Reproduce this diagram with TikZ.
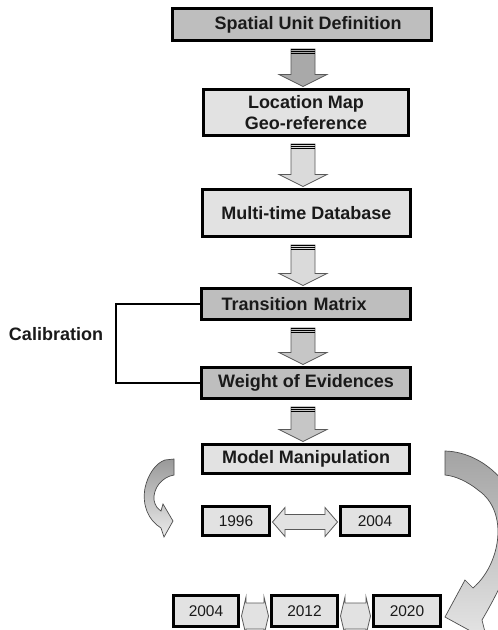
\documentclass[tikz,border=0pt]{standalone}
\usepackage{fontspec}
\setmainfont{Liberation Sans}
\usetikzlibrary{calc}

\definecolor{boxdark}{HTML}{BEBEBE}
\definecolor{boxlight}{HTML}{E2E2E2}
\definecolor{arrowdark}{HTML}{A9A9A9}
\definecolor{arrowmid}{HTML}{C6C6C6}
\definecolor{arrowlight}{HTML}{DADADA}
\definecolor{inkgray}{HTML}{1A1A1A}

\tikzset{
  box/.style={draw=black, line width=3pt, inner sep=0pt, text=inkgray,
    font=\bfseries\fontsize{18}{20.5}\selectfont},
  darkbox/.style={box, fill=boxdark},
  lightbox/.style={box, fill=boxlight},
  yearbox/.style={box, fill=boxlight, font=\fontsize{15.5}{18}\selectfont},
  flowarrow/.style={draw=black!65, line width=0.8pt, line join=miter},
  stripe/.style={draw=black, line width=0.9pt},
  bracket/.style={draw=black, line width=2pt},
  bentarrow/.style={draw=black!70, line width=0.7pt},
}

% vertical block arrow from the bottom of #1 to the top of #2, filled with #3
\newcommand\flowdown[3]{%
  \path[flowarrow, fill=#3] let \p1=(#1.south), \p2=(#2.north) in
    (291pt,\y1-7pt) -- (315pt,\y1-7pt) -- (315pt,\y2+13.5pt) -- (327pt,\y2+13.5pt)
    -- (303pt,\y2+1.5pt) -- (279pt,\y2+13.5pt) -- (291pt,\y2+13.5pt) -- cycle;
  \draw[stripe] let \p1=(#1.south) in
    (291pt,\y1-7pt) -- (315pt,\y1-7pt)
    (291pt,\y1-9pt) -- (315pt,\y1-9pt)
    (291pt,\y1-11pt) -- (315pt,\y1-11pt);
}

% horizontal double block arrow between #1 and #2:
% #3 half shaft, #4 half head, #5 head length, #6 drop below the box centre
\newcommand\flowboth[6]{%
  \path[flowarrow, fill=boxlight] let \p1=(#1.east), \p2=(#2.west) in
    (\x1+1.5pt,\y1-#6) -- (\x1+#5,\y1-#6+#4) -- (\x1+#5,\y1-#6+#3)
    -- (\x2-#5,\y1-#6+#3) -- (\x2-#5,\y1-#6+#4) -- (\x2-1.5pt,\y1-#6)
    -- (\x2-#5,\y1-#6-#4) -- (\x2-#5,\y1-#6-#3) -- (\x1+#5,\y1-#6-#3)
    -- (\x1+#5,\y1-#6-#4) -- cycle;
}

\begin{document}
\begin{tikzpicture}[x=1pt, y=-1pt]
  \useasboundingbox (0,0) rectangle (498,630);
  \fill[white] (0,0) rectangle (498,630);
  \clip (0,0) rectangle (498,630);

  % main chain of steps
  \node[darkbox, minimum width=259pt, minimum height=32pt] (sud) at (302,24.5)
    {\hspace*{12pt}Spatial Unit Definition};
  \node[lightbox, minimum width=205pt, minimum height=46pt, align=center] (lm) at (306,112.5)
    {Location Map\\Geo-reference};
  \node[lightbox, minimum width=208pt, minimum height=47pt] (mt) at (306.5,213)
    {Multi-time Database};
  \node[darkbox, minimum width=209pt, minimum height=31pt, text width=169pt, align=left,
    inner xsep=20pt] (tm) at (306,304) {Transition Matrix};
  \node[darkbox, minimum width=209pt, minimum height=31pt] (woe) at (306,383)
    {Weight of Evidences};
  \node[lightbox, minimum width=207pt, minimum height=29pt] (mm) at (306,459)
    {Model Manipulation};

  % simulation periods
  \node[yearbox, minimum width=67pt, minimum height=29pt] (y1996) at (236,521) {1996};
  \node[yearbox, minimum width=69pt, minimum height=29pt] (y2004a) at (375,521) {2004};
  \node[yearbox, minimum width=65pt, minimum height=31pt] (y2004b) at (206,611) {2004};
  \node[yearbox, minimum width=66pt, minimum height=31pt] (y2012) at (304.5,611) {2012};
  \node[yearbox, minimum width=67pt, minimum height=31pt] (y2020) at (407,611) {2020};

  % calibration loop
  \node[font=\bfseries\fontsize{18}{20.5}\selectfont, text=inkgray] (cal) at (56,334) {Calibration};
  \draw[bracket] (tm.west) -- ++(-84.5,0) |- (woe.west);

  % flow between the steps
  \flowdown{sud}{lm}{arrowdark}
  \flowdown{lm}{mt}{arrowlight}
  \flowdown{mt}{tm}{arrowlight}
  \flowdown{tm}{woe}{arrowmid}
  \flowdown{woe}{mm}{arrowmid}

  \flowboth{y1996}{y2004a}{7.5pt}{14.5pt}{14pt}{1pt}
  \flowboth{y2004b}{y2012}{13pt}{19pt}{6pt}{5pt}
  \flowboth{y2012}{y2020}{13pt}{19pt}{6pt}{5pt}

  % bent arrow on the left, towards the 1996 run
  \path[bentarrow, top color=black!40, bottom color=black!8]
    (165,460) -- (174,459) -- (174,475)
    .. controls (162,477) and (153,488) .. (154,500)
    .. controls (155,506) and (158,509) .. (161,511)
    -- (163,504) -- (173,521) -- (164,537) -- (161,528)
    .. controls (148,520) and (142,505) .. (145,488)
    .. controls (148,474) and (156,463) .. (165,460) -- cycle;

  % bent arrow on the right, towards the 2004-2020 run
  \path[bentarrow, top color=black!36, bottom color=black!10]
    (445,451) .. controls (488,452) and (525,495) .. (520,535)
    .. controls (512,565) and (495,598) .. (482,620)
    -- (487,640) -- (445,617) -- (465,580) -- (473,588)
    .. controls (500,565) and (510,512) .. (478,490)
    .. controls (468,482) and (456,476) .. (445,475) -- cycle;
\end{tikzpicture}
\end{document}
